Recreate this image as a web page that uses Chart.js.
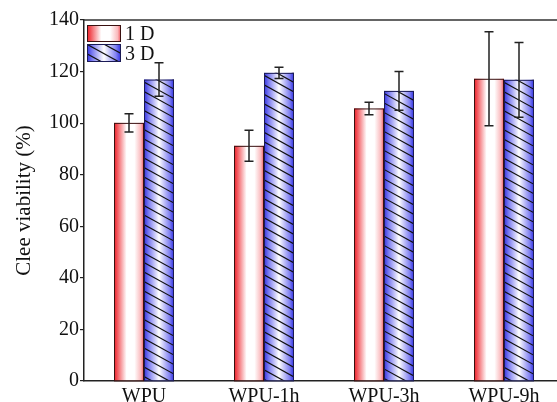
<!DOCTYPE html>
<html>
<head>
<meta charset="utf-8">
<script src="https://cdn.jsdelivr.net/npm/chart.js@4.4.0/dist/chart.umd.min.js"></script>
<style>
  html, body { margin: 0; padding: 0; background: #fff; overflow: hidden; }
  #clip { width: 557px; height: 402px; overflow: hidden; position: relative; }
  #wrap { width: 566px; height: 402px; position: absolute; left: 0; top: 0; }
</style>
</head>
<body>
<div id="clip"><div id="wrap"><canvas id="cellChart"></canvas></div></div>
<script>
// dữ liệu
const categories = ['WPU', 'WPU-1h', 'WPU-3h', 'WPU-9h'];
const day1 = [100.1, 91.2, 105.7, 117.2];
const day1Err = [3.5, 6.0, 2.4, 18.2];
const day3 = [116.9, 119.5, 112.5, 116.8];
const day3Err = [6.5, 2.2, 7.5, 14.5];
const yTicks = [0, 20, 40, 60, 80, 100, 120, 140];

const serif = '"Liberation Serif", "Times New Roman", serif';

function redGradient(ctx, left, right) {
    const g = ctx.createLinearGradient(left, 0, right, 0);
    g.addColorStop(0, 'rgb(236,28,36)');
    g.addColorStop(0.12, 'rgb(242,90,96)');
    g.addColorStop(0.42, 'rgb(255,255,255)');
    g.addColorStop(0.68, 'rgb(255,255,255)');
    g.addColorStop(0.9, 'rgb(250,185,188)');
    g.addColorStop(1, 'rgb(238,80,88)');
    return g;
}

function blueGradient(ctx, left, right) {
    const g = ctx.createLinearGradient(left, 0, right, 0);
    g.addColorStop(0, 'rgb(50,50,225)');
    g.addColorStop(0.15, 'rgb(120,120,240)');
    g.addColorStop(0.5, 'rgb(255,255,255)');
    g.addColorStop(0.85, 'rgb(130,130,242)');
    g.addColorStop(1, 'rgb(45,45,225)');
    return g;
}

function paintBar(ctx, left, top, right, bottom, hatched) {
    const w = right - left;
    ctx.save();
    ctx.fillStyle = hatched ? blueGradient(ctx, left, right) : redGradient(ctx, left, right);
    ctx.fillRect(left, top, w, bottom - top);
    if (hatched) {
        ctx.beginPath();
        ctx.rect(left, top, w, bottom - top);
        ctx.clip();
        ctx.strokeStyle = '#111';
        ctx.lineWidth = 1.2;
        const drop = w * 0.55;
        for (let k = top - drop; k < bottom + 2; k += 9.5) {
            ctx.beginPath();
            ctx.moveTo(left, k);
            ctx.lineTo(right, k + drop);
            ctx.stroke();
        }
    }
    ctx.restore();
    ctx.save();
    ctx.strokeStyle = hatched ? '#1a1a55' : '#3a1010';
    ctx.lineWidth = 1;
    ctx.strokeRect(left + 0.5, top + 0.5, w - 1, bottom - top);
    ctx.restore();
}

const barPainter = {
    id: 'barPainter',
    afterDatasetsDraw(chart) {
        const ctx = chart.ctx;
        const yScale = chart.scales.y;
        const errs = [day1Err, day3Err];
        chart.data.datasets.forEach((ds, di) => {
            const meta = chart.getDatasetMeta(di);
            meta.data.forEach((bar, i) => {
                const left = bar.x - bar.width / 2;
                const right = bar.x + bar.width / 2;
                paintBar(ctx, left, bar.y, right, bar.base, di === 1);
            });
        });
        // thanh sai số
        chart.data.datasets.forEach((ds, di) => {
            const meta = chart.getDatasetMeta(di);
            meta.data.forEach((bar, i) => {
                const v = ds.data[i];
                const e = errs[di][i];
                const yt = yScale.getPixelForValue(v + e);
                const yb = yScale.getPixelForValue(v - e);
                ctx.save();
                ctx.strokeStyle = '#222';
                ctx.lineWidth = 1.5;
                ctx.beginPath();
                ctx.moveTo(bar.x, yt); ctx.lineTo(bar.x, yb);
                ctx.moveTo(bar.x - 4.5, yt); ctx.lineTo(bar.x + 4.5, yt);
                ctx.moveTo(bar.x - 4.5, yb); ctx.lineTo(bar.x + 4.5, yb);
                ctx.stroke();
                ctx.restore();
            });
        });
        // khung trên
        const a = chart.chartArea;
        ctx.save();
        ctx.strokeStyle = '#333';
        ctx.lineWidth = 1.5;
        ctx.beginPath();
        ctx.moveTo(a.left, a.top);
        ctx.lineTo(a.right, a.top);
        ctx.lineTo(a.right, a.bottom);
        ctx.stroke();
        ctx.restore();
        // chú thích
        paintBar(ctx, a.left + 3, a.top + 5, a.left + 37, a.top + 21, false);
        paintBar(ctx, a.left + 3, a.top + 24, a.left + 37, a.top + 41, true);
        ctx.save();
        ctx.fillStyle = '#111';
        ctx.font = '20px ' + serif;
        ctx.textBaseline = 'alphabetic';
        ctx.fillText('1 D', a.left + 41, a.top + 20);
        ctx.fillText('3 D', a.left + 41, a.top + 40);
        ctx.restore();
    }
};

const ctx = document.getElementById('cellChart').getContext('2d');

const cellChart = new Chart(ctx, {
    type: 'bar',
    data: {
        labels: categories,
        datasets: [{
            label: '1 D',
            data: day1,
            backgroundColor: 'rgba(0,0,0,0)',
            borderWidth: 0
        }, {
            label: '3 D',
            data: day3,
            backgroundColor: 'rgba(0,0,0,0)',
            borderWidth: 0
        }]
    },
    options: {
        responsive: true,
        maintainAspectRatio: false,
        animation: false,
        layout: { padding: { top: 20, right: 2, left: 0, bottom: 0 } },
        plugins: {
            legend: { display: false },
            tooltip: { enabled: false }
        },
        datasets: {
            bar: { categoryPercentage: 0.5, barPercentage: 1.0 }
        },
        scales: {
            x: {
                grid: { display: false, drawTicks: false },
                border: { display: true, color: '#222', width: 1.5 },
                ticks: {
                    padding: 4,
                    color: '#111',
                    font: { family: serif, size: 20 }
                },
                afterFit: function(scale) { scale.height = 21; }
            },
            y: {
                min: 0,
                max: 140,
                afterBuildTicks: function(scale) {
                    scale.ticks = yTicks.map(v => ({ value: v }));
                },
                grid: {
                    drawOnChartArea: false,
                    drawTicks: true,
                    tickLength: 4,
                    color: '#222',
                    lineWidth: 1.2
                },
                border: { display: true, color: '#222', width: 1.5 },
                ticks: {
                    padding: 1,
                    color: '#111',
                    font: { family: serif, size: 20 }
                },
                title: {
                    display: true,
                    text: 'Clee viability (%)',
                    color: '#111',
                    font: { family: serif, size: 21 },
                    padding: { top: 12, bottom: 0 }
                },
                afterFit: function(scale) { scale.width = 84; }
            }
        }
    },
    plugins: [barPainter]
});
</script>
</body>
</html>
